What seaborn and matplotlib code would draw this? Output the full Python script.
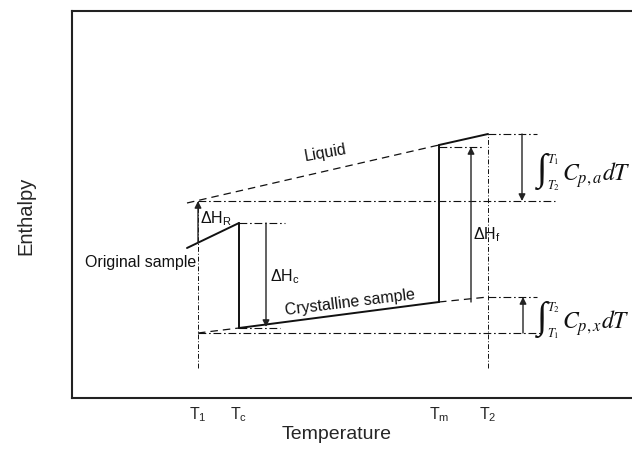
import matplotlib
matplotlib.use("Agg")
import matplotlib.pyplot as plt
import seaborn as sns
import pandas as pd

# ---- schematic data (temperature / enthalpy in arbitrary units) ----
T1, Tc, Tm, T2 = 126, 167, 367, 416
tick_pos = [T1, Tc, Tm, T2]
tick_labels = [r"$\mathregular{T_1}$", r"$\mathregular{T_c}$",
               r"$\mathregular{T_m}$", r"$\mathregular{T_2}$"]

# enthalpy levels
H_liq_start = 195   # liquid extrapolation start (at T=115)
H_liq_T1 = 197
H_liq_Tm = 253
H_liq_T2 = 264
H_orig_start = 150  # original sample at T=115
H_orig_T1 = 155
H_orig_Tc = 175
H_x_T1 = 65
H_x_Tc = 70
H_x_Tm = 96
H_x_T2 = 101
T_start = 115

# solid segments (T list, H list)
solid_T = [[T_start, Tc], [Tc, Tc], [Tc, Tm], [Tm, Tm], [Tm, T2]]
solid_H = [[H_orig_start, H_orig_Tc], [H_orig_Tc, H_x_Tc], [H_x_Tc, H_x_Tm],
           [H_x_Tm, H_liq_Tm], [H_liq_Tm, H_liq_T2]]

# dashed extrapolations
dashed_T = [[T_start, Tm], [T1, Tc], [Tm, T2]]
dashed_H = [[H_liq_start, H_liq_Tm], [H_x_T1, H_x_Tc], [H_x_Tm, H_x_T2]]

# dash-dot reference lines: horizontal (H, T_from, T_to)
hdd_H = [H_liq_T1, H_x_T1, H_orig_Tc, H_x_Tc, 251, H_liq_T2, H_x_T2]
hdd_T0 = [T1, T1, Tc, Tc, Tm, T2, T2]
hdd_T1 = [483, 471, 213, 208, 410, 465, 465]
# vertical dash-dot (T, H_from, H_to)
vdd_T = [T1, T2]
vdd_H0 = [30, 30]
vdd_H1 = [H_liq_T1, H_liq_T2]

# arrows (T, H_from, H_to)
arr_T = [T1, 194, 399, 450, 451]
arr_H0 = [H_orig_T1, H_orig_Tc, H_x_Tm, H_liq_T2, H_x_T1]
arr_H1 = [H_liq_T1, 71, 251, H_liq_T1, H_x_T2]

sns.set_theme(style="white")
plt.rcParams["font.family"] = ["Liberation Sans", "DejaVu Sans"]

fig = plt.figure(figsize=(6.32, 4.54), dpi=100)
ax = fig.add_axes([72 / 632, 56 / 454, 573 / 632, 387 / 454])

for Ts, Hs in zip(solid_T, solid_H):
    df = pd.DataFrame({"T": Ts, "H": Hs})
    sns.lineplot(data=df, x="T", y="H", ax=ax, color="#111111", lw=1.4,
                 sort=False, estimator=None)
for Ts, Hs in zip(dashed_T, dashed_H):
    df = pd.DataFrame({"T": Ts, "H": Hs})
    sns.lineplot(data=df, x="T", y="H", ax=ax, color="#111111", lw=0.9,
                 sort=False, estimator=None, linestyle=(0, (6, 4)))
for h, t0, t1 in zip(hdd_H, hdd_T0, hdd_T1):
    df = pd.DataFrame({"T": [t0, t1], "H": [h, h]})
    sns.lineplot(data=df, x="T", y="H", ax=ax, color="#111111", lw=0.8,
                 sort=False, estimator=None, linestyle=(0, (7, 2.5, 1.5, 2.5)))
for t, h0, h1 in zip(vdd_T, vdd_H0, vdd_H1):
    df = pd.DataFrame({"T": [t, t], "H": [h0, h1]})
    sns.lineplot(data=df, x="T", y="H", ax=ax, color="#111111", lw=0.7,
                 sort=False, estimator=None, linestyle=(0, (5, 2, 1, 2)))

for t, h0, h1 in zip(arr_T, arr_H0, arr_H1):
    ax.annotate("", xy=(t, h1), xytext=(t, h0),
                arrowprops=dict(arrowstyle="-|>", lw=1.0, color="#222222",
                                mutation_scale=10, shrinkA=0, shrinkB=0))

txt_kw = dict(fontsize=11.5, color="#111111")
ax.text(253, 245, "Liquid", ha="center", va="center", rotation=10, **txt_kw)
ax.text(278, 95, "Crystalline sample", ha="center", va="center", rotation=7, **txt_kw)
ax.text(69, 135, "Original sample", ha="center", va="center", **txt_kw)
ax.text(128, 179, r"$\mathregular{\Delta H_R}$", ha="left", va="center", **txt_kw)
ax.text(198, 121, r"$\mathregular{\Delta H_c}$", ha="left", va="center", **txt_kw)
ax.text(401, 163, r"$\mathregular{\Delta H_f}$", ha="left", va="center", **txt_kw)

# integral annotations, built from pieces
serif = dict(color="#111111", math_fontfamily="stix")
for yc, up, lo, body in [(226, r"$T_1$", r"$T_2$", r"$C_{p,a}dT$"),
                         (78, r"$T_2$", r"$T_1$", r"$C_{p,x}dT$")]:
    ax.text(470, yc, "\u222b", ha="center", va="center", fontsize=27,
            family="Liberation Serif", color="#111111")
    ax.text(475, yc + 12, up, ha="left", va="center", fontsize=9, **serif)
    ax.text(475, yc - 14, lo, ha="left", va="center", fontsize=9, **serif)
    ax.text(490, yc - 3, body, ha="left", va="center", fontsize=17, **serif)

ax.set_xlim(0, 573)
ax.set_ylim(0, 387)
ax.set_xticks(tick_pos)
ax.set_xticklabels(tick_labels, fontsize=11.5)
ax.set_yticks([])
ax.tick_params(axis="x", length=0, pad=5)
for s in ["left", "bottom", "top", "right"]:
    ax.spines[s].set_color("#222222")
    ax.spines[s].set_linewidth(1.5)

ax.set_xlabel("Temperature", fontsize=14)
ax.set_ylabel("Enthalpy", fontsize=14.5)
ax.xaxis.set_label_coords(0.462, -0.072)
ax.yaxis.set_label_coords(-0.064, 0.47)

fig.savefig("out.png", dpi=100)
